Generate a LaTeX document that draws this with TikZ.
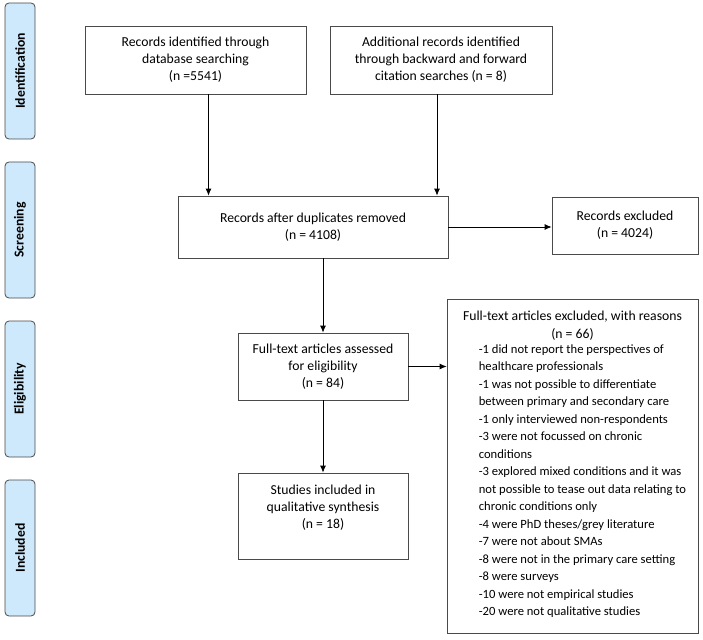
\documentclass[tikz,border=0pt]{standalone}
\usepackage{fontspec}
\setmainfont{Carlito}
\usetikzlibrary{arrows.meta}
\definecolor{phaseblue}{HTML}{CDE9FB}
\definecolor{boxgrey}{HTML}{4A4A4A}
\tikzset{
  flowbox/.style={draw=boxgrey, line width=0.8pt, align=center, inner sep=2pt,
    font=\fontsize{13.7}{17}\selectfont},
  phase/.style={draw=boxgrey, fill=phaseblue, line width=0.8pt, rounded corners=4pt,
    rotate=90, minimum width=136pt, minimum height=30pt, inner sep=0pt,
    font=\fontsize{13.7}{15}\selectfont\bfseries},
  arr/.style={-{Latex[length=7pt,width=6pt]}, line width=0.8pt, black}
}
\begin{document}
\begin{tikzpicture}[x=1pt, y=-1pt]
    \useasboundingbox (0,0) rectangle (703,639);

    % Phasen
    \node[phase] (ident) at (20,71) {Identification};
    \node[phase] (screen) at (20,230) {Screening};
    \node[phase] (elig) at (20,389) {Eligibility};
    \node[phase] (incl) at (20,548) {Included};

    % Kaesten
    \node[flowbox, minimum width=221pt, minimum height=68pt] (dbsearch) at (195.5,60)
      {Records identified through\\database searching\\(n =5541)};
    \node[flowbox, minimum width=222pt, minimum height=68pt] (citsearch) at (441,60)
      {Additional records identified\\through backward and forward\\citation searches (n = 8)};
    \node[flowbox, minimum width=270pt, minimum height=62pt] (dedup) at (313,227)
      {Records after duplicates removed\\(n = 4108)};
    \node[flowbox, minimum width=146pt, minimum height=57pt] (recexcl) at (625,225.5)
      {Records excluded\\(n = 4024)};
    \node[flowbox, minimum width=170pt, minimum height=67pt] (fulltext) at (323,366.5)
      {Full-text articles assessed\\for eligibility\\(n = 84)};
    \node[flowbox, minimum width=170pt, minimum height=86pt] (synth) at (323,516)
      {Studies included in\\qualitative synthesis\\(n = 18)\\[1pt]\mbox{}};
    \node[flowbox, minimum width=251pt, minimum height=334pt, font=\fontsize{13.7}{17.5}\selectfont] (ftexcl) at (572.5,466)
      {Full-text articles excluded, with reasons\\(n = 66)\\
       \hspace*{20pt}\fontsize{12.6}{17.5}\selectfont\renewcommand{\arraystretch}{1}%
       \begin{tabular}{@{}l@{}}
       -1 did not report the perspectives of\\
       healthcare professionals\\
       -1 was not possible to differentiate\\
       between primary and secondary care\\
       -1 only interviewed non-respondents\\
       -3 were not focussed on chronic\\
       conditions\\
       -3 explored mixed conditions and it was\\
       not possible to tease out data relating to\\
       chronic conditions only\\
       -4 were PhD theses/grey literature\\
       -7 were not about SMAs\\
       -8 were not in the primary care setting\\
       -8 were surveys\\
       -10 were not empirical studies\\
       -20 were not qualitative studies
       \end{tabular}};

    % Pfeile
    \draw[arr] ([xshift=13pt]dbsearch.south) -- ([xshift=13pt]dbsearch.south |- dedup.north);
    \draw[arr] ([xshift=-4pt]citsearch.south) -- ([xshift=-4pt]citsearch.south |- dedup.north);
    \draw[arr] (dedup.east) -- (dedup.east -| recexcl.west);
    \draw[arr] (dedup.south -| fulltext.north) -- (fulltext.north);
    \draw[arr] (fulltext.east) -- (fulltext.east -| ftexcl.west);
    \draw[arr] (fulltext.south) -- (fulltext.south |- synth.north);
\end{tikzpicture}
\end{document}
